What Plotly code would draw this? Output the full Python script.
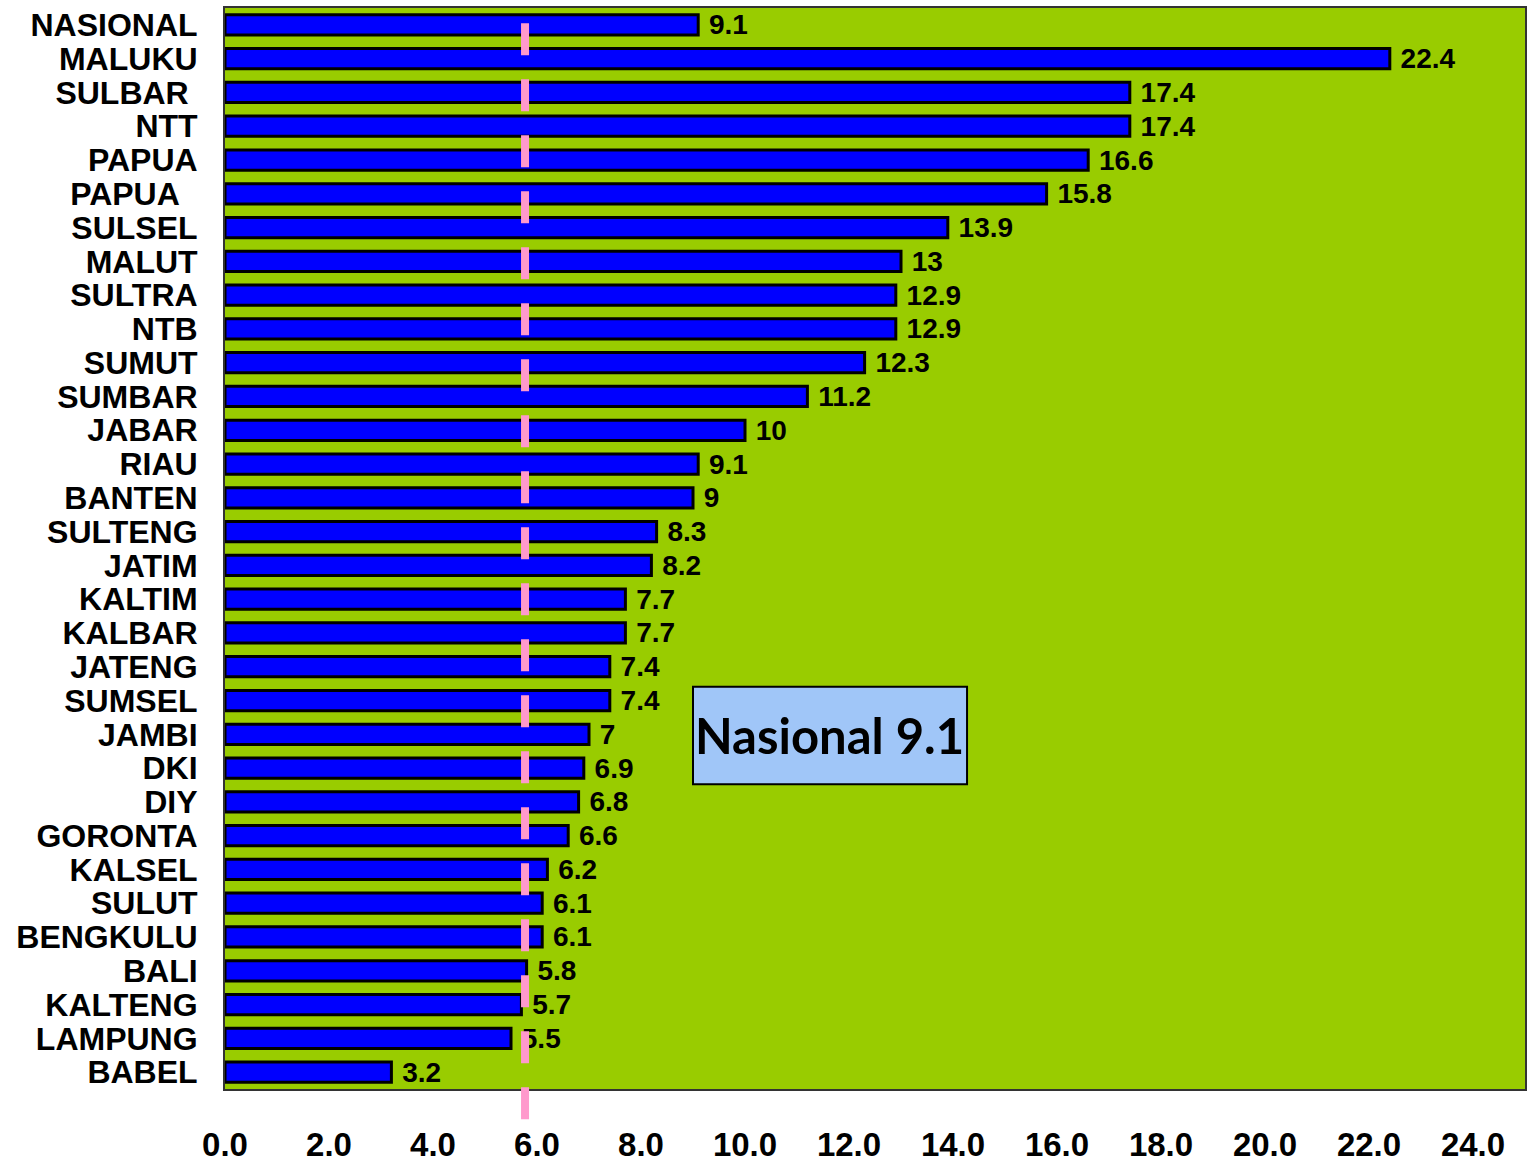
import plotly.graph_objects as go

# Provinces (top to bottom) and their values
provinces = [
    "NASIONAL", "MALUKU", "SULBAR\u00a0", "NTT", "PAPUA", "PAPUA\u00a0\u00a0", "SULSEL",
    "MALUT", "SULTRA", "NTB", "SUMUT", "SUMBAR", "JABAR", "RIAU", "BANTEN",
    "SULTENG", "JATIM", "KALTIM", "KALBAR", "JATENG", "SUMSEL", "JAMBI", "DKI",
    "DIY", "GORONTA", "KALSEL", "SULUT", "BENGKULU", "BALI", "KALTENG",
    "LAMPUNG", "BABEL",
]
values = [
    9.1, 22.4, 17.4, 17.4, 16.6, 15.8, 13.9,
    13, 12.9, 12.9, 12.3, 11.2, 10, 9.1, 9,
    8.3, 8.2, 7.7, 7.7, 7.4, 7.4, 7, 6.9,
    6.8, 6.6, 6.2, 6.1, 6.1, 5.8, 5.7,
    5.5, 3.2,
]
x_ticks = [0, 2, 4, 6, 8, 10, 12, 14, 16, 18, 20, 22, 24]
reference_line = 5.77
national_text = "Nasional 9.1"

fig = go.Figure()
fig.add_trace(go.Bar(
    x=values,
    y=provinces,
    orientation="h",
    width=0.6,
    marker=dict(color="#0000FF", line=dict(color="#000000", width=3)),
    text=[f"\u00a0{v:g}" for v in values],
    textposition="outside",
    constraintext="none",
    cliponaxis=False,
    textfont=dict(family="Liberation Sans, Arial", size=28, color="#000000", weight=700),
))

# Dashed reference line running past the bottom of the plot area
fig.add_shape(
    type="line", xref="x", yref="paper",
    x0=reference_line, x1=reference_line, y0=0.986, y1=-0.028,
    line=dict(color="#FF99CC", width=8, dash="32px,24px"),
    layer="above",
)

# National value box
fig.add_shape(
    type="rect", xref="x", yref="paper",
    x0=9.0, x1=14.27, y0=0.282, y1=0.372,
    fillcolor="#A0C6F8", line=dict(color="#000000", width=2),
    layer="above",
)
fig.add_annotation(
    x=11.63, y=0.327, xref="x", yref="paper",
    text=national_text, showarrow=False, yshift=-30,
    font=dict(family="Lato, Carlito, Calibri", size=49, color="#000000", weight=700),
)

fig.update_layout(
    width=1528, height=1162,
    margin=dict(l=225, r=3, t=8, b=73),
    paper_bgcolor="#FFFFFF",
    plot_bgcolor="#99CC00",
    showlegend=False,
    bargap=0.4,
    xaxis=dict(
        range=[0, 25],
        tickvals=x_ticks,
        tickformat=".1f",
        showgrid=False,
        zeroline=False,
        showline=True, linecolor="#333333", linewidth=2, mirror=True,
        ticks="",
        ticklabelstandoff=25,
        automargin=False,
        tickfont=dict(family="Liberation Sans, Arial", size=33, color="#000000", weight=700),
    ),
    yaxis=dict(
        autorange="reversed",
        tickmode="array",
        tickvals=provinces,
        ticktext=provinces,
        showgrid=False,
        zeroline=False,
        showline=True, linecolor="#333333", linewidth=2, mirror=True,
        ticks="",
        ticklabelstandoff=19,
        automargin=False,
        tickfont=dict(family="Liberation Sans, Arial", size=32, color="#000000", weight=700),
    ),
)

fig.write_html("out.html")
